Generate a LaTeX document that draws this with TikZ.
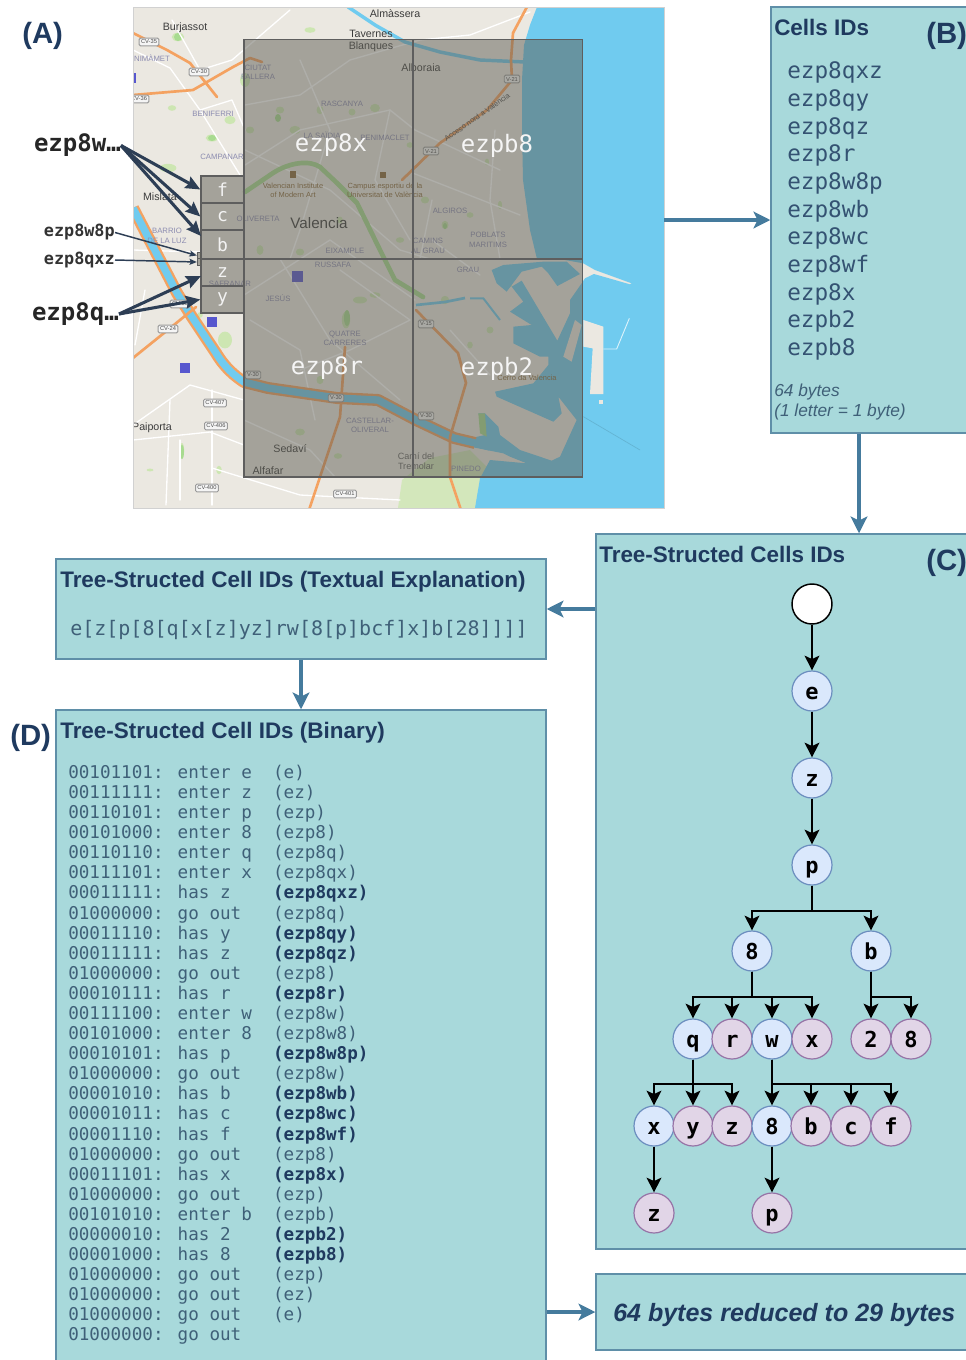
\documentclass[tikz,border=0pt]{standalone}
\usepackage{fontspec}
\setmainfont{Liberation Sans}
\newfontfamily\monof{DejaVu Sans Mono}
\usetikzlibrary{arrows.meta,calc}
\definecolor{panelfill}{HTML}{A8D9DB}
\definecolor{panelline}{HTML}{5F8FA8}
\definecolor{flowblue}{HTML}{457B9D}
\definecolor{navy}{HTML}{1F3A5F}
\definecolor{monotxt}{HTML}{3F6078}
\definecolor{arrowdark}{HTML}{2D3E55}
\definecolor{land}{HTML}{EBE8E1}
\definecolor{sea}{HTML}{70CBEF}
\definecolor{road}{HTML}{F4A261}
\definecolor{park}{HTML}{CDE6B2}
\definecolor{parkd}{HTML}{A8DB90}
\definecolor{overlay}{HTML}{5F5E55}
\definecolor{gridline}{HTML}{5E5E5E}
\definecolor{district}{HTML}{8C8CB0}
\definecolor{town}{HTML}{3C3C3C}
\definecolor{poi}{HTML}{8A6A3A}
\definecolor{innerfill}{HTML}{DAE8FC}
\definecolor{innerline}{HTML}{6C8EBF}
\definecolor{leaffill}{HTML}{E1D5E7}
\definecolor{leafline}{HTML}{9673A6}
\def\u{0.75pt}
\tikzset{
  panel/.style={draw=panelline,line width=1.1pt,fill=panelfill,inner sep=0pt},
  title/.style={anchor=base west,inner sep=0pt,text=navy,font=\bfseries\fontsize{16.85}{20}\selectfont},
  tag/.style={anchor=base west,inner sep=0pt,text=navy,font=\bfseries\fontsize{22}{26}\selectfont},
  flow/.style={draw=flowblue,line width=2.3pt,-{Stealth[length=12.5pt,width=12.5pt,inset=3pt]}},
  treeedge/.style={draw=black,line width=1.8pt,-{Stealth[length=11pt,width=11pt,inset=2.5pt]}},
  treebase/.style={circle,minimum size={40*\u},inner sep=0pt,line width=0.9pt,text=black,text height=12pt,text depth=0pt,font=\monof\bfseries\fontsize{16.5}{18}\selectfont},
  inner/.style={treebase,draw=innerline,fill=innerfill},
  leafn/.style={treebase,draw=leafline,fill=leaffill},
  rootn/.style={treebase,draw=black,fill=white,line width=1.1pt},
  bigcell/.style={draw=gridline,draw opacity=1,line width=1.1pt,fill=overlay,fill opacity=.5,inner sep=0pt,minimum width={169*\u},minimum height={219*\u}},
  smallcell/.style={draw=gridline,draw opacity=1,line width=1pt,fill=overlay,fill opacity=.5,text opacity=1,text=white!95!black,inner sep=0pt,minimum width={43*\u},font=\monof\fontsize{13.5}{15}\selectfont},
  tinycell/.style={draw=gridline,draw opacity=1,line width=.6pt,fill=overlay,fill opacity=.5,inner sep=0pt,minimum width={4.5*\u},minimum height={6.5*\u}},
  geolabel/.style={inner sep=0pt,text=white!96!black,font=\monof\fontsize{18}{20}\selectfont},
  ptrbig/.style={inner sep=0pt,text=black!85,font=\monof\bfseries\fontsize{18}{20}\selectfont},
  ptrsmall/.style={inner sep=0pt,text=black!80,font=\monof\bfseries\fontsize{12.6}{15}\selectfont},
  ptrthick/.style={draw=arrowdark,line width=2.3pt,-{Stealth[length=11pt,width=9.5pt,inset=1.5pt]}},
  ptrthin/.style={draw=arrowdark,line width=1.1pt,-{Stealth[length=5.5pt,width=4.5pt,inset=1pt]}},
  twn/.style={inner sep=0pt,text=town,align=center,font=\fontsize{8}{8.6}\selectfont},
  dist/.style={inner sep=0pt,text=district,align=center,font=\fontsize{5.8}{7}\selectfont},
  brown/.style={inner sep=0pt,text=poi,align=center,font=\fontsize{5.6}{6.8}\selectfont},
  badge/.style={inner sep=1.4pt,rounded corners=1pt,draw=gray!80,fill=white!96!black,line width=.7pt,text=black!70,font=\fontsize{4.3}{5}\selectfont},
  roadln/.style={draw=road,line width=2pt,line cap=round,line join=round},
  street/.style={draw=white,line width=1pt,line cap=round,line join=round},
}
\begin{document}
\begin{tikzpicture}[x=0.75pt,y=-0.75pt]
\useasboundingbox (0,0) rectangle (966,1360);
\fill[white] (0,0) rectangle (966,1360);
\clip (0,0) rectangle (966,1360);
% ---------------- map ----------------
\begin{scope}
\clip (133,7) rectangle (664,508);
\fill[land] (133,7) rectangle (664,508);
% bottom fields and parks
\fill[park!80!land] (398,508) -- (402,480) -- (430,458) -- (470,450) -- (490,470) -- (480,508) -- cycle;
\foreach \px/\py/\rx/\ry in {178/37/9/6,310/30/8/4,230/120/8/6,172/108/6/4,212/138/9/5,168/168/12/6,245/80/7/10,
  280/110/6/5,295/130/8/6,320/110/5/6,352/112/5/5,375/108/7/6,260/250/5/7,300/252/6/5,346/320/6/12,360/300/10/5,
  375/295/8/4,320/380/5/6,300/432/7/5,338/456/6/4,182/450/3/10,150/470/5/2,219/470/4/6,225/340/10/12,
  200/315/4/4,425/200/6/5,445/225/5/6,470/215/5/4,487/162/3/5,500/205/3/6,445/300/6/6,490/330/5/5,470/345/4/5,
  510/285/3/3,250/130/6/5,400/240/6/4,340/220/4/5,410/145/5/4}
  \fill[park] (\px,\py) ellipse ({.7*\rx*\u} and {.7*\ry*\u});
\foreach \px/\py/\rx/\ry in {178/37/4/4,278/118/3/4,212/138/4/3,347/318/3/8,445/226/2/3,182/452/2/7}
  \fill[parkd] (\px,\py) ellipse ({\rx*\u} and {\ry*\u});
% streets
\draw[street] (133,50) -- (170,68) -- (200,110) -- (240,175);
\draw[street] (200,110) -- (232,100) -- (245,130);
\draw[street] (172,20) -- (200,70) -- (232,60) -- (290,10);
\draw[street] (245,105) -- (300,95) -- (350,60) -- (420,40) -- (470,35) -- (530,12);
\draw[street] (245,165) -- (300,130) -- (390,110) -- (415,130) -- (500,170);
\draw[street] (245,150) -- (330,190) -- (400,250) -- (430,259);
\draw[street] (390,110) -- (375,180) -- (410,240);
\draw[street] (300,60) -- (330,130) -- (300,230) -- (290,259);
\draw[street] (410,172) -- (520,215);
\draw[street] (432,200) -- (420,259);
\draw[street] (495,130) -- (490,200) -- (500,259);
\draw[street] (244,295) -- (330,240) -- (415,300);
\draw[street] (280,259) -- (330,340) -- (400,400);
\draw[street] (340,270) -- (410,320) -- (350,350) -- (300,370);
\draw[street] (250,320) -- (300,350) -- (315,420);
\draw[street] (244,420) -- (310,450) -- (335,477);
\draw[street] (133,425) -- (190,385) -- (244,400);
\draw[street] (133,440) -- (210,432) -- (244,445);
\draw[street] (212,390) -- (212,505);
\draw[street] (170,400) -- (166,505);
\draw[street] (180,440) -- (180,500);
\draw[street] (212,468) -- (300,495) -- (400,500);
\draw[street] (133,250) -- (200,252);
\draw[street] (145,290) -- (135,345);
\draw[street] (432,240) -- (480,275);
\draw[street] (450,330) -- (490,375);
% Turia gardens
\draw[draw=parkd,line width=3.5pt,line cap=round,line join=round] (245,192) -- (273,173) .. controls (290,162) and (310,160) .. (320,167) -- (337,183) -- (357,203) -- (380,250) -- (395,280) -- (423,297);
% sea and port (1 unit = a third of a pixel, from the corner 470,250)
\begin{scope}[shift={(470,250)},x=.25pt,y=-.25pt]
\fill[sea] (201,-729) -- (582,-729) -- (582,774) -- (15,774) -- (30,685) -- (60,630) -- (170,640) -- (120,620) -- (100,610) -- (0,590) -- (0,565) -- (45,555) -- (25,490) -- (45,490) -- (85,530) -- (90,555) -- (150,600) -- (245,632) -- (270,620) -- (320,510) -- (265,440) -- (275,490) -- (250,515) -- (80,440) -- (75,425) -- (190,400) -- (235,345) -- (235,320) -- (210,320) -- (130,280) -- (130,230) -- (185,225) -- (120,185) -- (160,155) -- (125,110) -- (155,92) -- (262,272) -- (300,190) -- (300,150) -- (335,100) -- (345,85) -- (372,72) -- (480,103) -- (485,100) -- (375,60) -- (340,40) -- (285,30) -- (201,27) -- (180,-60) -- (159,-210) -- (156,-360) -- (156,-510) -- (162,-615) -- (180,-675) -- cycle;
\fill[sea] (65,60) -- (100,45) -- (220,35) -- (290,35) -- (330,72) -- (262,108) -- (235,70) -- (215,50) -- (155,65) -- (110,125) -- (80,100) -- cycle;
\fill[land] (315,210) -- (335,225) -- (305,335) -- (280,320) -- cycle;
\fill[land] (340,210) -- (400,230) -- (400,432) -- (360,432) -- (368,295) -- (340,290) -- cycle;
\fill[land] (388,450) -- (398,450) -- (398,462) -- (388,462) -- cycle;
\draw[sea,line width=1.5pt] (0,145) -- (40,145) -- (90,210);
\draw[white!75!sea,line width=.7pt] (400,297) -- (440,297) -- (478,205);
\draw[sea!88!black,line width=.5pt] (340,500) -- (510,600);
\fill[parkd] (25,490) -- (45,490) -- (50,560) -- (30,550) -- cycle;
\end{scope}
% rivers
\draw[draw=road,line width=9pt,line join=round] (133,208) -- (177,293) -- (192,317) -- (216,353) .. controls (225,368) and (235,376) .. (244,382) -- (268,388) -- (337,398) -- (378,400) -- (416,420) -- (454,438) -- (475,443);
\draw[draw=sea,line width=5.5pt,line join=round] (133,208) -- (177,293) -- (192,317) -- (216,353) .. controls (225,368) and (235,376) .. (244,382) -- (268,388) -- (337,398) -- (378,400) -- (416,420) -- (454,438) -- (475,443) -- (490,447);
\draw[draw=sea,line width=2.6pt,line join=round] (348,7) -- (375,25) -- (405,42) -- (440,52) -- (480,60) -- (525,62);
\draw[draw=sea,line width=2pt] (416,305) -- (445,302) -- (465,298);
% roads
\draw[roadln] (528,5) -- (513,33) -- (511,60) -- (512,80) -- (487,110) -- (440,143) -- (402,180);
\draw[roadln] (133,95) -- (193,90) -- (233,67) -- (250,58) -- (262,62);
\draw[roadln] (133,33) -- (167,50) -- (190,63) -- (217,97);
\draw[roadln] (133,358) -- (164,333) -- (196,307);
\draw[roadln] (309,510) -- (320,477) -- (340,417) -- (345,347);
\draw[roadln] (416,310) -- (458,353) -- (466,383) -- (450,437) -- (450,477) -- (461,510);
% labels under the overlay
\node[twn] (mBurj) at (185,28) {Burjassot};
\node[twn] (mAlma) at (395,14) {Almàssera};
\node[twn] (mTav) at (371,41) {Tavernes\\Blanques};
\node[twn] (mAlbo) at (421,68) {Alboraia};
\node[twn] (mMisl) at (160,197) {Mislata};
\node[twn,font=\fontsize{11.4}{13}\selectfont] (mVal) at (319,223) {Valencia};
\node[twn] (mPaip) at (152,428) {Paiporta};
\node[twn] (mSeda) at (290,449) {Sedaví};
\node[twn] (mAlfa) at (268,471) {Alfafar};
\node[twn,font=\fontsize{6.8}{7.6}\selectfont,text=town!80] (mCami) at (416,461) {Camí del\\Tremolar};
\node[dist] (dBeni) at (152,58) {NIMÀMET};
\node[dist] (dBenf) at (213,114) {BENIFERRI};
\node[dist] (dCamp) at (222,157) {CAMPANAR};
\node[dist] (dBarr) at (167,236) {BARRIO\\DE LA LUZ};
\node[dist] (dCiut) at (258,72) {CIUTAT\\FALLERA};
\node[dist] (dRasc) at (342,104) {RASCANYA};
\node[dist] (dSaid) at (322,135) {LA SAÏDIA};
\node[dist] (dBenm) at (385,138) {BENIMACLET};
\node[dist] (dOliv) at (258,219) {OLIVERETA};
\node[dist] (dEixa) at (345,251) {EIXAMPLE};
\node[dist] (dRuss) at (333,265) {RUSSAFA};
\node[dist] (dJesu) at (278,298) {JESÚS};
\node[dist] (dSafr) at (230,284) {SAFRANAR};
\node[dist] (dQuat) at (345,338) {QUATRE\\CARRERES};
\node[dist] (dCast) at (370,425) {CASTELLAR-\\OLIVERAL};
\node[dist] (dPine) at (466,469) {PINEDO};
\node[dist] (dPobl) at (488,240) {POBLATS\\MARITIMS};
\node[dist] (dAlgi) at (450,211) {ALGIROS};
\node[dist] (dCaml) at (428,246) {CAMINS\\AL GRAU};
\node[dist] (dGrau) at (468,270) {GRAU};
\node[brown] (bCamp) at (385,190) {Campus esportiu de la\\Universitat de València};
\node[brown] (bInst) at (293,190) {Valencian Institute\\of Modern Art};
\node[brown] (bPort) at (527,378) {Cerro da Valencia};
\node[brown,rotate=35,text=black!70] (bAcc) at (477,117) {Acceso nord a València};
\fill[poi] (290,171) rectangle (296,178);
\fill[poi] (380,172) rectangle (386,178);
\fill[blue!55!gray!85] (292,271) rectangle (303,282);
\fill[blue!55!gray!85] (207,317) rectangle (217,327);
\fill[blue!55!gray!85] (180,363) rectangle (190,373);
\fill[blue!55!gray!85] (133,73) rectangle (136,83);
\node[badge] (rA) at (149,42) {CV-35};
\node[badge] (rB) at (199,72) {CV-30};
\node[badge] (rC) at (139,99) {CV-36};
\node[badge] (rD) at (512,79) {V-21};
\node[badge] (rE) at (431,151) {V-21};
\node[badge] (rF) at (168,329) {CV-24};
\node[badge] (rG) at (180,304) {CV-35};
\node[badge] (rH) at (253,375) {V-30};
\node[badge] (rI) at (336,398) {V-30};
\node[badge] (rJ) at (426,416) {V-30};
\node[badge] (rK) at (426,324) {V-15};
\node[badge] (rL) at (215,403) {CV-407};
\node[badge] (rM) at (216,426) {CV-406};
\node[badge] (rN) at (207,488) {CV-400};
\node[badge] (rO) at (345,494) {CV-401};
\end{scope}
\node[draw=black!18,line width=.7pt,inner sep=0pt,minimum width={531*\u},minimum height={501*\u}] (mapframe) at (398.5,257.5) {};
% grid cells
\node[bigcell] (gx) at (328.5,149) {};
\node[bigcell] (gb8) at (498,149) {};
\node[bigcell,minimum height={218*\u}] (gr) at (328.5,368) {};
\node[bigcell,minimum height={218*\u}] (gb2) at (498,368) {};
\node[smallcell,minimum height={27*\u}] (cellf) at (222.5,189.5) {f};
\node[smallcell,minimum height={27*\u}] (cellc) at (222.5,216.5) {c};
\node[smallcell,minimum height={28*\u}] (cellb) at (222.5,244.5) {b};
\node[smallcell,minimum height={27*\u}] (cellz) at (222.5,272.5) {z};
\node[smallcell,minimum height={27*\u}] (celly) at (222.5,299.5) {y};
\node[tinycell] (tinyp) at (199.5,255.5) {};
\node[tinycell] (tinyz) at (199.5,262) {};
\node[geolabel] (lx) at (331,145.5) {ezp8x};
\node[geolabel] (lb8) at (497,145.5) {ezpb8};
\node[geolabel] (lr) at (327,368.5) {ezp8r};
\node[geolabel] (lb2) at (497,368.5) {ezpb2};
% pointers
\node[ptrbig,anchor=east] (pw) at (121,145.5) {ezp8w…};
\node[ptrbig,anchor=east] (pq) at (119,314) {ezp8q…};
\node[ptrsmall,anchor=east] (pw8p) at (115,232.5) {ezp8w8p};
\node[ptrsmall,anchor=east] (pqxz) at (115,260) {ezp8qxz};
\coordinate (bhit) at (201,236);
\coordinate (zhit) at (201,276);
\draw[ptrthick] (pw.east) -- (cellf.west);
\draw[ptrthick] (pw.east) -- (cellc.west);
\draw[ptrthick] (pw.east) -- (bhit);
\draw[ptrthick] (pq.east) -- (zhit);
\draw[ptrthick] (pq.east) -- (celly.west);
\draw[ptrthin] (pw8p.east) -- (tinyp.west);
\draw[ptrthin] (pqxz.east) -- (tinyz.west);
\node[tag] (tagA) at (22,43) {(A)};
% ---------------- panels ----------------
\node[panel,minimum width={229*\u},minimum height={426*\u}] (cellsB) at (885.5,220) {};
\node[panel,minimum width={404*\u},minimum height={715*\u}] (treeC) at (798,891.5) {};
\node[panel,minimum width={490*\u},minimum height={100*\u}] (textE) at (301,609) {};
\node[panel,minimum width={490*\u},minimum height={710*\u}] (binD) at (301,1065) {};
\node[panel,minimum width={404*\u},minimum height={76*\u}] (finalF) at (798,1312) {};
\node[title] (tB) at (774,35) {Cells IDs};
\node[tag] (tagB) at (926,43) {(B)};
\node[anchor=north west,inner sep=0pt,align=left,text=navy!85!panelfill,font=\monof\fontsize{17}{20.74}\selectfont] (listB) at (787,59.3) {\strut ezp8qxz\\ezp8qy\\ezp8qz\\ezp8r\\ezp8w8p\\ezp8wb\\ezp8wc\\ezp8wf\\ezp8x\\ezpb2\\ezpb8};
\node[anchor=north west,inner sep=0pt,align=left,text=monotxt,font=\itshape\fontsize{13}{15}\selectfont] (noteB) at (774,382) {\strut 64 bytes\\(1 letter = 1 byte)};
\node[title] (tC) at (599,562.5) {Tree-Structed Cells IDs};
\node[tag] (tagC) at (926,570) {(C)};
\node[title] (tE) at (60,587) {Tree-Structed Cell IDs (Textual Explanation)};
\node[anchor=base west,inner sep=0pt,text=monotxt,font=\monof\fontsize{15}{18}\selectfont] (textline) at (70,635) {e[z[p[8[q[x[z]yz]rw[8[p]bcf]x]b[28]]]]};
\node[title] (tD) at (60,738) {Tree-Structed Cell IDs (Binary)};
\node[tag] (tagD) at (10,745) {(D)};
\node[anchor=north west,inner sep=0pt,align=left,text=monotxt,font=\monof\fontsize{13.2}{15.07}\selectfont] (listD) at (68,764) {\strut 00101101: enter~e~~(e)\\
00111111: enter~z~~(ez)\\
00110101: enter~p~~(ezp)\\
00101000: enter~8~~(ezp8)\\
00110110: enter~q~~(ezp8q)\\
00111101: enter~x~~(ezp8qx)\\
00011111: has~z~~~~{\bfseries\color{navy}(ezp8qxz)}\\
01000000: go~out~~~(ezp8q)\\
00011110: has~y~~~~{\bfseries\color{navy}(ezp8qy)}\\
00011111: has~z~~~~{\bfseries\color{navy}(ezp8qz)}\\
01000000: go~out~~~(ezp8)\\
00010111: has~r~~~~{\bfseries\color{navy}(ezp8r)}\\
00111100: enter~w~~(ezp8w)\\
00101000: enter~8~~(ezp8w8)\\
00010101: has~p~~~~{\bfseries\color{navy}(ezp8w8p)}\\
01000000: go~out~~~(ezp8w)\\
00001010: has~b~~~~{\bfseries\color{navy}(ezp8wb)}\\
00001011: has~c~~~~{\bfseries\color{navy}(ezp8wc)}\\
00001110: has~f~~~~{\bfseries\color{navy}(ezp8wf)}\\
01000000: go~out~~~(ezp8)\\
00011101: has~x~~~~{\bfseries\color{navy}(ezp8x)}\\
01000000: go~out~~~(ezp)\\
00101010: enter~b~~(ezpb)\\
00000010: has~2~~~~{\bfseries\color{navy}(ezpb2)}\\
00001000: has~8~~~~{\bfseries\color{navy}(ezpb8)}\\
01000000: go~out~~~(ezp)\\
01000000: go~out~~~(ez)\\
01000000: go~out~~~(e)\\
01000000: go~out};
\node[anchor=base west,inner sep=0pt,text=navy,font=\bfseries\itshape\fontsize{18.77}{22}\selectfont] (tF) at (613,1321) {64 bytes reduced to 29 bytes};
% panel connectors
\coordinate (bcx) at (859,0);
\draw[flow] (cellsB.west -| mapframe.east) -- (cellsB.west);
\draw[flow] (cellsB.south -| bcx) -- (treeC.north -| bcx);
\draw[flow] (textE.east -| treeC.west) -- (textE.east);
\draw[flow] (textE.south) -- (binD.north);
\draw[flow] (finalF.west -| binD.east) -- (finalF.west);
% ---------------- tree ----------------
\node[rootn] (root) at (812,604) {};
\node[inner] (ne) at (812,691) {e};
\node[inner] (nz) at (812,778) {z};
\node[inner] (np) at (812,865) {p};
\node[inner] (n8) at (752,951) {8};
\node[inner] (nb) at (871,951) {b};
\node[inner] (nq) at (693,1039) {q};
\node[leafn] (nr) at (732,1039) {r};
\node[inner] (nw) at (772,1039) {w};
\node[leafn] (nx) at (812,1039) {x};
\node[leafn] (nb2) at (871,1039) {2};
\node[leafn] (nb8) at (911,1039) {8};
\node[inner] (qx) at (654,1126) {x};
\node[leafn] (qy) at (693,1126) {y};
\node[leafn] (qz) at (732,1126) {z};
\node[inner] (w8) at (772,1126) {8};
\node[leafn] (wb) at (811,1126) {b};
\node[leafn] (wc) at (851,1126) {c};
\node[leafn] (wf) at (891,1126) {f};
\node[leafn] (qxz) at (654,1213) {z};
\node[leafn] (w8p) at (772,1213) {p};
\coordinate (busp) at (812,911);
\coordinate (bus8) at (752,997);
\coordinate (busb) at (871,997);
\coordinate (busq) at (693,1084);
\coordinate (busw) at (772,1084);
\draw[treeedge] (root.south) -- (ne.north);
\draw[treeedge] (ne.south) -- (nz.north);
\draw[treeedge] (nz.south) -- (np.north);
\draw[treeedge] (np.south) -- (busp) -| (n8.north);
\draw[treeedge] (np.south) -- (busp) -| (nb.north);
\draw[treeedge] (n8.south) -- (bus8) -| (nq.north);
\draw[treeedge] (n8.south) -- (bus8) -| (nr.north);
\draw[treeedge] (n8.south) -- (bus8) -| (nw.north);
\draw[treeedge] (n8.south) -- (bus8) -| (nx.north);
\draw[treeedge] (nb.south) -- (nb2.north);
\draw[treeedge] (nb.south) -- (busb) -| (nb8.north);
\draw[treeedge] (nq.south) -- (busq) -| (qx.north);
\draw[treeedge] (nq.south) -- (qy.north);
\draw[treeedge] (nq.south) -- (busq) -| (qz.north);
\draw[treeedge] (nw.south) -- (w8.north);
\draw[treeedge] (nw.south) -- (busw) -| (wb.north);
\draw[treeedge] (nw.south) -- (busw) -| (wc.north);
\draw[treeedge] (nw.south) -- (busw) -| (wf.north);
\draw[treeedge] (qx.south) -- (qxz.north);
\draw[treeedge] (w8.south) -- (w8p.north);
\end{tikzpicture}
\end{document}
